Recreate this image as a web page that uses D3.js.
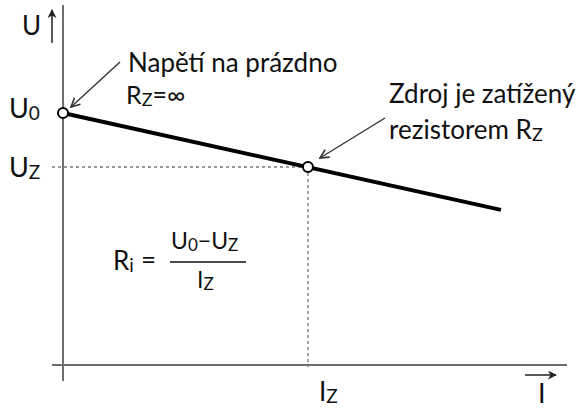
<!DOCTYPE html>
<html>
<head>
<meta charset="utf-8">
<script src="https://cdn.jsdelivr.net/npm/d3@7"></script>
<style>
  body { margin: 0; background: #fff; }
  text { font-family: Lato, "Open Sans", sans-serif; fill: #111; }
</style>
</head>
<body>
<div id="chart"></div>
<script>
// load line of the source: U = U0 - Ri * I
var lineI = [0, 8.69];
var lineU = [7.0, 4.31];
// marked points: open circuit and loaded state
var pointI = [0, 4.86];
var pointU = [7.0, 5.5];

var width = 582, height = 409;

var x = d3.scaleLinear().domain([0, 10]).range([63, 567]);
var y = d3.scaleLinear().domain([0, 10]).range([365, 5]);

var svg = d3.select("#chart").append("svg")
    .attr("width", width)
    .attr("height", height);

var defs = svg.append("defs");
defs.append("marker")
    .attr("id", "thin")
    .attr("viewBox", "0 0 10 10")
    .attr("refX", 9).attr("refY", 5)
    .attr("markerWidth", 11).attr("markerHeight", 11)
    .attr("markerUnits", "userSpaceOnUse")
    .attr("orient", "auto")
    .append("path")
    .attr("d", "M1,1 L9,5 L1,9")
    .attr("fill", "none")
    .attr("stroke", "#333")
    .attr("stroke-width", 1.5);
defs.append("marker")
    .attr("id", "solid")
    .attr("viewBox", "0 0 10 10")
    .attr("refX", 9).attr("refY", 5)
    .attr("markerWidth", 9).attr("markerHeight", 9)
    .attr("markerUnits", "userSpaceOnUse")
    .attr("orient", "auto")
    .append("path")
    .attr("d", "M0,0 L10,5 L0,10 L3,5 Z")
    .attr("fill", "#222");

// axes
svg.append("line")
    .attr("x1", x(0)).attr("x2", x(0))
    .attr("y1", y(10)).attr("y2", y(0) + 16)
    .attr("stroke", "#6e6e6e").attr("stroke-width", 2);
svg.append("line")
    .attr("x1", x(0) - 11).attr("x2", x(10))
    .attr("y1", y(0)).attr("y2", y(0))
    .attr("stroke", "#6e6e6e").attr("stroke-width", 2);

// dashed helper lines to the loaded point
svg.append("line")
    .attr("x1", x(0) - 11).attr("x2", x(pointI[1]))
    .attr("y1", y(pointU[1])).attr("y2", y(pointU[1]))
    .attr("stroke", "#777").attr("stroke-width", 1.3)
    .attr("stroke-dasharray", "3,3");
svg.append("line")
    .attr("x1", x(pointI[1])).attr("x2", x(pointI[1]))
    .attr("y1", y(pointU[1])).attr("y2", y(0) + 2)
    .attr("stroke", "#777").attr("stroke-width", 1.3)
    .attr("stroke-dasharray", "3,3");

// load line
var line = d3.line()
    .x(function(d) { return x(d[0]); })
    .y(function(d) { return y(d[1]); });
svg.append("path")
    .datum(d3.zip(lineI, lineU))
    .attr("d", line)
    .attr("fill", "none")
    .attr("stroke", "#000")
    .attr("stroke-width", 4);

svg.selectAll(".pt")
    .data(d3.zip(pointI, pointU)).enter()
    .append("circle")
    .attr("class", "pt")
    .attr("cx", function(d) { return x(d[0]); })
    .attr("cy", function(d) { return y(d[1]); })
    .attr("r", 5)
    .attr("fill", "#fff")
    .attr("stroke", "#000")
    .attr("stroke-width", 2);

// text made of parts, [string, isSubscript]
function rich(px, py, parts, size, subSize) {
    var t = svg.append("text")
        .attr("x", px).attr("y", py)
        .style("font-size", size + "px");
    var low = false;
    parts.forEach(function(p) {
        var s = t.append("tspan").text(p[0]);
        if (p[1] && !low) s.attr("dy", 2);
        if (!p[1] && low) s.attr("dy", -2);
        if (p[1]) s.style("font-size", subSize + "px");
        low = p[1];
    });
    return t;
}

// axis titles
svg.append("text").attr("x", 22).attr("y", 35)
    .style("font-size", "26px").text("U");
svg.append("line")
    .attr("x1", 52).attr("x2", 52).attr("y1", 43).attr("y2", 10)
    .attr("stroke", "#222").attr("stroke-width", 1.5)
    .attr("marker-end", "url(#solid)");
svg.append("text").attr("x", 538).attr("y", 403)
    .style("font-size", "27px").text("I");
svg.append("line")
    .attr("x1", 525).attr("x2", 556).attr("y1", 375).attr("y2", 375)
    .attr("stroke", "#222").attr("stroke-width", 1.5)
    .attr("marker-end", "url(#solid)");

// value labels on the axes
rich(9, y(pointU[0]) + 5, [["U", 0], ["0", 1]], 27, 19);
rich(9, y(pointU[1]) + 10, [["U", 0], ["Z", 1]], 27, 19);
rich(x(pointI[1]) + 11, 401, [["I", 0], ["Z", 1]], 26, 19);

// annotations
svg.append("text").attr("x", 128).attr("y", 72)
    .style("font-size", "26px").text("Napětí na prázdno");
rich(126, 104, [["R", 0], ["Z", 1], ["=∞", 0]], 25, 18);
svg.append("line")
    .attr("x1", 120).attr("y1", 62)
    .attr("x2", x(pointI[0]) + 8).attr("y2", y(pointU[0]) - 6)
    .attr("stroke", "#333").attr("stroke-width", 1.4)
    .attr("marker-end", "url(#thin)");

svg.append("text").attr("x", 389).attr("y", 103)
    .style("font-size", "26px").text("Zdroj je zatížený");
rich(389, 139, [["rezistorem R", 0], ["Z", 1]], 26, 18);
svg.append("line")
    .attr("x1", 385).attr("y1", 118)
    .attr("x2", x(pointI[1]) + 12).attr("y2", y(pointU[1]) - 9)
    .attr("stroke", "#333").attr("stroke-width", 1.4)
    .attr("marker-end", "url(#thin)");

// formula for internal resistance
rich(113, 270, [["R", 0], ["i", 1]], 26, 19);
svg.append("text").attr("x", 141).attr("y", 269)
    .style("font-size", "26px").text("=");
rich(171, 249, [["U", 0], ["0", 1], ["−U", 0], ["Z", 1]], 23, 17);
svg.append("line")
    .attr("x1", 170).attr("x2", 246).attr("y1", 262).attr("y2", 262)
    .attr("stroke", "#111").attr("stroke-width", 1.5);
rich(197, 288, [["I", 0], ["Z", 1]], 23, 17);
</script>
</body>
</html>
